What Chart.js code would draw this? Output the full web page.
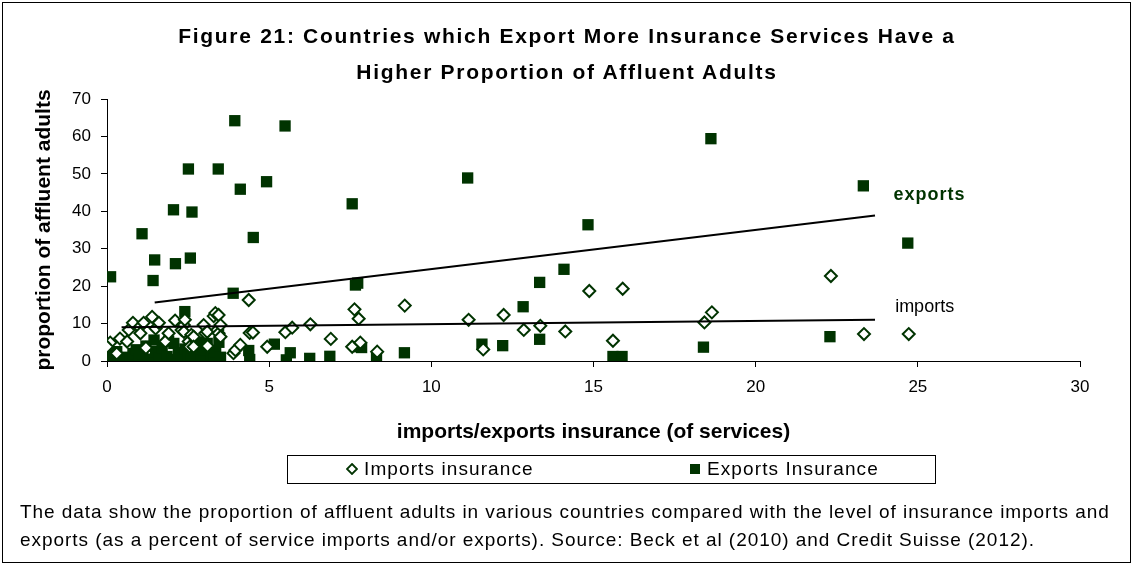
<!DOCTYPE html>
<html>
<head>
<meta charset="utf-8">
<script src="https://cdn.jsdelivr.net/npm/chart.js@4/dist/chart.umd.min.js"></script>
<style>
  body { margin: 0; background: #fff; font-family: "Liberation Sans", Arial, sans-serif; }
  #wrap { position: relative; width: 1134px; height: 565px; overflow: hidden; }
  #frame { position: absolute; left: 2px; top: 2px; width: 1127px; height: 559px; border: 1px solid #000; }
  #chart { position: absolute; left: 0; top: 0; }
  #title { position: absolute; left: 0; top: 18px; width: 1134px; text-align: center; font-weight: bold; font-size: 21px; letter-spacing: 1.7px; line-height: 36px; color: #000; }
  #legend { position: absolute; left: 287px; top: 455px; width: 647px; height: 27px; border: 1px solid #000; font-size: 19px; letter-spacing: 1.1px; color: #000; }
  #legend span { position: absolute; top: 2px; white-space: nowrap; }
  .mk { display: inline-block; vertical-align: middle; margin-right: 6px; position: relative; top: -1px; }
  #caption { position: absolute; left: 20px; top: 498px; width: 1110px; font-size: 19px; letter-spacing: 0.95px; line-height: 28px; color: #000; white-space: nowrap; }
</style>
</head>
<body>
<div id="wrap">
  <div id="frame"></div>
  <canvas id="chart" width="1134" height="565"></canvas>
  <div id="title">Figure 21: Countries which Export More Insurance Services Have a<br>Higher Proportion of Affluent Adults</div>
  <div id="legend">
    <span style="left:58px"><svg class="mk" width="12" height="12"><path d="M6 1 L11 6 L6 11 L1 6 Z" fill="#fff" stroke="#003300" stroke-width="1.8"/></svg>Imports insurance</span>
    <span style="left:401px"><svg class="mk" width="12" height="12"><rect x="1" y="1" width="10" height="10" fill="#003300"/></svg>Exports Insurance</span>
  </div>
  <div id="caption">The data show the proportion of affluent adults in various countries compared with the level of insurance imports and<br>exports (as a percent of service imports and/or exports). Source: Beck et al (2010) and Credit Suisse (2012).</div>
</div>
<script>
"use strict"

// imports insurance (% of service imports) vs proportion of affluent adults
const importsX = [0.1, 0.0, 0.3, 0.4, 0.62, 0.67, 0.8, 1.0, 1.03, 1.13, 1.2, 1.39, 1.5, 1.6, 1.8, 1.9, 2.1, 2.3, 2.37, 2.37, 2.4,
  2.52, 2.55, 2.6, 2.67, 2.67, 2.98, 3.03, 3.09, 3.1, 3.29, 3.34, 3.4, 3.44, 3.44, 3.5, 3.5, 3.9, 3.96, 4.11, 4.37, 4.4, 4.5,
  4.94, 5.5, 5.71, 6.27, 6.9, 7.56, 7.63, 7.76, 7.81, 8.33, 9.18, 11.15, 11.6, 12.23, 12.85, 13.36, 14.13, 14.87, 15.6, 15.9,
  18.42, 18.65, 22.32, 23.34, 24.72];
const importsY = [4.9, 3.8, 2.0, 6.0, 5.2, 8.3, 10.2, 9.0, 7.4, 10.2, 3.5, 11.8, 8.7, 10.2, 5.2, 7.4, 10.8, 8.3, 9.6, 7.8, 11.0,
  5.2, 3.8, 7.0, 6.5, 3.8, 9.6, 7.4, 7.8, 4.0, 12.0, 12.8, 8.3, 12.3, 7.4, 9.6, 6.5, 2.1, 2.9, 4.3, 16.3, 7.5, 7.6,
  3.8, 7.7, 8.9, 9.8, 5.9, 3.8, 13.8, 11.3, 4.9, 2.5, 14.8, 11.0, 3.1, 12.3, 8.3, 9.4, 7.9, 18.7, 5.4, 19.3,
  10.3, 13.0, 22.7, 7.2, 7.2];

// exports insurance (% of service exports) vs proportion of affluent adults
const exportsX = [3.94, 5.49, 2.51, 3.43, 4.11, 4.92, 2.05, 2.62, 1.08, 4.51, 1.47, 2.11, 2.57, 0.11, 1.42, 3.89, 2.40,
  7.56, 11.12, 7.66, 7.73, 18.62, 14.83, 14.09, 13.34, 12.83, 23.32, 24.69, 22.29, 18.39, 15.6, 15.88, 13.34, 12.2, 11.56,
  9.17, 8.31, 7.78, 7.85, 6.87, 6.25, 5.53, 5.65, 5.16, 4.37, 4.4,
  0.0, 0.1, 0.3, 0.2, 0.5, 0.7, 0.8, 0.9, 1.0, 1.1, 1.2, 1.3, 1.45, 1.5, 1.6, 1.7, 1.85, 1.9, 2.0, 2.06, 2.2, 2.3, 2.4,
  2.5, 2.6, 2.7, 2.8, 2.9, 2.9, 3.0, 3.09, 3.2, 3.3, 3.35, 3.45, 3.5];
const exportsY = [64.2, 62.8, 51.3, 51.3, 45.9, 47.9, 40.4, 39.8, 34.0, 33.0, 27.0, 26.0, 27.5, 22.5, 21.5, 18.1, 13.2,
  42.0, 48.9, 20.3, 20.8, 59.4, 36.4, 24.5, 21.0, 14.5, 46.8, 31.5, 6.5, 3.7, 1.2, 1.2, 5.8, 4.1, 4.5,
  2.2, 0.7, 3.8, 3.6, 1.25, 0.7, 0.3, 2.2, 4.5, 2.8, 0.4,
  0.5, 1.5, 2.5, 0.3, 1.0, 0.4, 2.0, 3.0, 0.6, 1.8, 4.0, 0.5, 5.6, 2.5, 0.8, 3.5, 1.2, 5.3, 0.4, 4.7, 2.2, 0.8, 3.2,
  1.5, 0.4, 2.6, 1.0, 0.3, 5.0, 3.0, 4.7, 1.5, 0.5, 2.5, 5.0, 1.0];

// fitted trend lines as drawn in the figure (end points)
const exportsTrendX = [1.47, 23.68];
const exportsTrendY = [15.6, 38.9];
const importsTrendX = [0.45, 23.68];
const importsTrendY = [9.0, 11.0];

const xTicks = [0, 5, 10, 15, 20, 25, 30];
const yTicks = [0, 10, 20, 30, 40, 50, 60, 70];

// labels next to the trend lines, placed in data units
const trendLabels = [
  { text: 'exports', x: 24.25, y: 44.4, bold: true, color: '#003300' },
  { text: 'imports', x: 24.3, y: 14.4, bold: false, color: '#000' }
];

const GREEN = '#003300';

function pts(xs, ys) {
  return xs.map((x, i) => ({ x: x, y: ys[i] }));
}

const trendLabelPlugin = {
  id: 'trendLabels',
  afterDatasetsDraw(chart) {
    const ctx = chart.ctx;
    const sx = chart.scales.x, sy = chart.scales.y;
    ctx.save();
    trendLabels.forEach(l => {
      ctx.font = (l.bold ? 'bold ' : '') + '18px "Liberation Sans", Arial, sans-serif';
      ctx.fillStyle = l.color;
      ctx.textAlign = 'left';
      ctx.textBaseline = 'middle';
      if (l.bold) ctx.letterSpacing = '1px';
      ctx.fillText(l.text, sx.getPixelForValue(l.x), sy.getPixelForValue(l.y));
      ctx.letterSpacing = '0px';
    });
    ctx.restore();
  }
};

const tickFont = { family: '"Liberation Sans", Arial, sans-serif', size: 17 };
const titleFont = { family: '"Liberation Sans", Arial, sans-serif', size: 21, weight: 'bold' };

new Chart(document.getElementById('chart').getContext('2d'), {
  type: 'scatter',
  data: {
    datasets: [
      {
        label: 'exports trend',
        type: 'line',
        data: pts(exportsTrendX, exportsTrendY),
        borderColor: '#000',
        borderWidth: 2,
        pointRadius: 0,
        fill: false
      },
      {
        label: 'imports trend',
        type: 'line',
        data: pts(importsTrendX, importsTrendY),
        borderColor: '#000',
        borderWidth: 2,
        pointRadius: 0,
        fill: false
      },
      {
        label: 'Imports insurance',
        data: pts(importsX, importsY),
        pointStyle: 'rectRot',
        pointRadius: 6,
        backgroundColor: '#fff',
        borderColor: GREEN,
        borderWidth: 2
      },
      {
        label: 'Exports Insurance',
        data: pts(exportsX, exportsY),
        pointStyle: 'rect',
        pointRadius: 8,
        backgroundColor: GREEN,
        borderColor: GREEN,
        borderWidth: 0
      }
    ]
  },
  options: {
    responsive: false,
    animation: false,
    events: [],
    layout: { padding: { top: 99, right: 54, left: 0, bottom: 0 } },
    plugins: {
      legend: { display: false },
      tooltip: { enabled: false }
    },
    scales: {
      x: {
        type: 'linear',
        min: 0,
        max: 30,
        afterBuildTicks: s => { s.ticks = xTicks.map(v => ({ value: v })); },
        afterFit: s => { s.height = 204; },
        ticks: { color: '#000', font: tickFont, padding: 10, maxRotation: 0 },
        grid: { drawOnChartArea: false, drawTicks: true, tickLength: 6, color: '#000' },
        border: { color: '#000', width: 1 },
        title: { display: true, text: 'imports/exports insurance (of services)', color: '#000', font: titleFont, padding: { top: 0, bottom: 120 } }
      },
      y: {
        type: 'linear',
        min: 0,
        max: 70,
        afterBuildTicks: s => { s.ticks = yTicks.map(v => ({ value: v })); },
        afterFit: s => { s.width = 107; },
        ticks: { color: '#000', font: tickFont, padding: 10 },
        grid: { drawOnChartArea: false, drawTicks: true, tickLength: 6, color: '#000' },
        border: { color: '#000', width: 1 },
        title: { display: true, text: 'proportion of affluent adults', color: '#000', font: titleFont, padding: { top: 32, bottom: 0 } }
      }
    }
  },
  plugins: [trendLabelPlugin]
});
</script>
</body>
</html>
